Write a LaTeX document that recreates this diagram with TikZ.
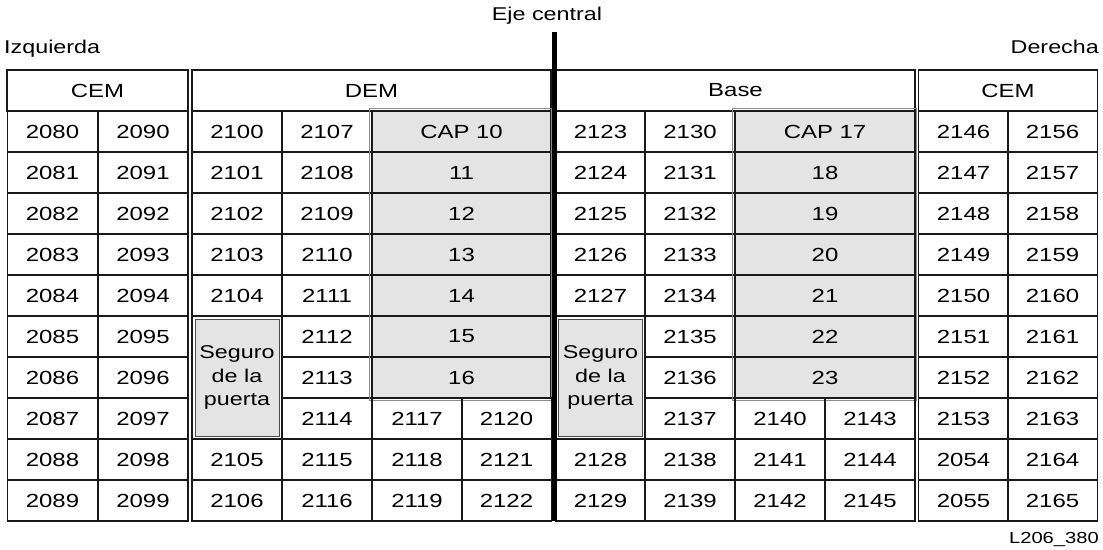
\documentclass[tikz,border=0pt]{standalone}
\usepackage{fontspec}
\setmainfont{Liberation Sans}[FakeStretch=1.26]
\definecolor{rule}{RGB}{25,25,25}
\definecolor{capgray}{RGB}{228,228,228}

\begin{document}
\begin{tikzpicture}[x=1pt, y=-1pt,
		cell/.style={draw=rule, line width=1.4pt, minimum width=90pt,
			minimum height=41pt, inner sep=0pt,
			font=\fontsize{19}{22}\selectfont},
		head/.style={cell},
		capcell/.style={cell, fill=capgray},
		door/.style={draw=black!70, line width=1pt, fill=capgray,
			minimum width=84pt, minimum height=117pt, inner sep=0pt,
			align=center, font=\fontsize{18.5}{23.5}\selectfont},
		capframe/.style={draw=black!45, line width=1pt},
		lbl/.style={inner sep=0pt, font=\fontsize{18.5}{22}\selectfont},
		axis/.style={line width=5pt}]
	\useasboundingbox (0,0) rectangle (1103,549);

	% labels on top
	\node[lbl, anchor=base] (eje) at (547,20) {Eje central};
	\node[lbl, anchor=base west] (izq) at (4,53) {Izquierda};
	\node[lbl, anchor=base east] (der) at (1099,53) {Derecha};
	\node[lbl, anchor=base east, font=\fontsize{16}{19}\selectfont] (ref) at (1099,543) {L206\_380};

	% left CEM
	\node[head, minimum width=181pt] (cemL) at (97.5,90.5) {CEM};
	\node[cell] (n2080) at (52.5,131.5) {2080};
	\node[cell] (n2081) at (52.5,172.5) {2081};
	\node[cell] (n2082) at (52.5,213.5) {2082};
	\node[cell] (n2083) at (52.5,254.5) {2083};
	\node[cell] (n2084) at (52.5,295.5) {2084};
	\node[cell] (n2085) at (52.5,336.5) {2085};
	\node[cell] (n2086) at (52.5,377.5) {2086};
	\node[cell] (n2087) at (52.5,418.5) {2087};
	\node[cell] (n2088) at (52.5,459.5) {2088};
	\node[cell] (n2089) at (52.5,500.5) {2089};
	\node[cell] (n2090) at (143,131.5) {2090};
	\node[cell] (n2091) at (143,172.5) {2091};
	\node[cell] (n2092) at (143,213.5) {2092};
	\node[cell] (n2093) at (143,254.5) {2093};
	\node[cell] (n2094) at (143,295.5) {2094};
	\node[cell] (n2095) at (143,336.5) {2095};
	\node[cell] (n2096) at (143,377.5) {2096};
	\node[cell] (n2097) at (143,418.5) {2097};
	\node[cell] (n2098) at (143,459.5) {2098};
	\node[cell] (n2099) at (143,500.5) {2099};

	% DEM
	\node[head, minimum width=359pt] (dem) at (371.5,90.5) {DEM};
	\node[cell] (n2100) at (237,131.5) {2100};
	\node[cell] (n2101) at (237,172.5) {2101};
	\node[cell] (n2102) at (237,213.5) {2102};
	\node[cell] (n2103) at (237,254.5) {2103};
	\node[cell] (n2104) at (237,295.5) {2104};
	\node[cell, minimum height=123pt] (doorL) at (237,377.5) {};
	\node[door] (seguroL) at (doorL) {Seguro\\de la\\puerta};
	\node[cell] (n2105) at (237,459.5) {2105};
	\node[cell] (n2106) at (237,500.5) {2106};
	\node[cell] (n2107) at (327,131.5) {2107};
	\node[cell] (n2108) at (327,172.5) {2108};
	\node[cell] (n2109) at (327,213.5) {2109};
	\node[cell] (n2110) at (327,254.5) {2110};
	\node[cell] (n2111) at (327,295.5) {2111};
	\node[cell] (n2112) at (327,336.5) {2112};
	\node[cell] (n2113) at (327,377.5) {2113};
	\node[cell] (n2114) at (327,418.5) {2114};
	\node[cell] (n2115) at (327,459.5) {2115};
	\node[cell] (n2116) at (327,500.5) {2116};
	\node[capcell, minimum width=179pt] (cap10) at (461.5,131.5) {CAP 10};
	\node[capcell, minimum width=179pt] (cap11) at (461.5,172.5) {11};
	\node[capcell, minimum width=179pt] (cap12) at (461.5,213.5) {12};
	\node[capcell, minimum width=179pt] (cap13) at (461.5,254.5) {13};
	\node[capcell, minimum width=179pt] (cap14) at (461.5,295.5) {14};
	\node[capcell, minimum width=179pt] (cap15) at (461.5,336.5) {15};
	\node[capcell, minimum width=179pt] (cap16) at (461.5,377.5) {16};
	\draw[capframe] ([xshift=-2pt,yshift=2pt]cap10.north west) rectangle ([yshift=-2pt]cap16.south east);
	\node[cell] (n2117) at (417,418.5) {2117};
	\node[cell] (n2118) at (417,459.5) {2118};
	\node[cell] (n2119) at (417,500.5) {2119};
	\node[cell] (n2120) at (506.5,418.5) {2120};
	\node[cell] (n2121) at (506.5,459.5) {2121};
	\node[cell] (n2122) at (506.5,500.5) {2122};

	% Base
	\node[head, minimum width=359pt] (base) at (735.5,90.5) {Base};
	\node[cell] (n2123) at (600.5,131.5) {2123};
	\node[cell] (n2124) at (600.5,172.5) {2124};
	\node[cell] (n2125) at (600.5,213.5) {2125};
	\node[cell] (n2126) at (600.5,254.5) {2126};
	\node[cell] (n2127) at (600.5,295.5) {2127};
	\node[cell, minimum height=123pt] (doorR) at (600.5,377.5) {};
	\node[door] (seguroR) at (doorR) {Seguro\\de la\\puerta};
	\node[cell] (n2128) at (600.5,459.5) {2128};
	\node[cell] (n2129) at (600.5,500.5) {2129};
	\node[cell] (n2130) at (690,131.5) {2130};
	\node[cell] (n2131) at (690,172.5) {2131};
	\node[cell] (n2132) at (690,213.5) {2132};
	\node[cell] (n2133) at (690,254.5) {2133};
	\node[cell] (n2134) at (690,295.5) {2134};
	\node[cell] (n2135) at (690,336.5) {2135};
	\node[cell] (n2136) at (690,377.5) {2136};
	\node[cell] (n2137) at (690,418.5) {2137};
	\node[cell] (n2138) at (690,459.5) {2138};
	\node[cell] (n2139) at (690,500.5) {2139};
	\node[capcell, minimum width=180pt] (cap17) at (825,131.5) {CAP 17};
	\node[capcell, minimum width=180pt] (cap18) at (825,172.5) {18};
	\node[capcell, minimum width=180pt] (cap19) at (825,213.5) {19};
	\node[capcell, minimum width=180pt] (cap20) at (825,254.5) {20};
	\node[capcell, minimum width=180pt] (cap21) at (825,295.5) {21};
	\node[capcell, minimum width=180pt] (cap22) at (825,336.5) {22};
	\node[capcell, minimum width=180pt] (cap23) at (825,377.5) {23};
	\draw[capframe] ([xshift=-2pt,yshift=2pt]cap17.north west) rectangle ([xshift=1pt,yshift=-2pt]cap23.south east);
	\node[cell] (n2140) at (780,418.5) {2140};
	\node[cell] (n2141) at (780,459.5) {2141};
	\node[cell] (n2142) at (780,500.5) {2142};
	\node[cell] (n2143) at (870,418.5) {2143};
	\node[cell] (n2144) at (870,459.5) {2144};
	\node[cell] (n2145) at (870,500.5) {2145};

	% right CEM
	\node[head, minimum width=179pt] (cemR) at (1008,90.5) {CEM};
	\node[cell] (n2146) at (963.5,131.5) {2146};
	\node[cell] (n2147) at (963.5,172.5) {2147};
	\node[cell] (n2148) at (963.5,213.5) {2148};
	\node[cell] (n2149) at (963.5,254.5) {2149};
	\node[cell] (n2150) at (963.5,295.5) {2150};
	\node[cell] (n2151) at (963.5,336.5) {2151};
	\node[cell] (n2152) at (963.5,377.5) {2152};
	\node[cell] (n2153) at (963.5,418.5) {2153};
	\node[cell] (n2054) at (963.5,459.5) {2054};
	\node[cell] (n2055) at (963.5,500.5) {2055};
	\node[cell] (n2156) at (1052.5,131.5) {2156};
	\node[cell] (n2157) at (1052.5,172.5) {2157};
	\node[cell] (n2158) at (1052.5,213.5) {2158};
	\node[cell] (n2159) at (1052.5,254.5) {2159};
	\node[cell] (n2160) at (1052.5,295.5) {2160};
	\node[cell] (n2161) at (1052.5,336.5) {2161};
	\node[cell] (n2162) at (1052.5,377.5) {2162};
	\node[cell] (n2163) at (1052.5,418.5) {2163};
	\node[cell] (n2164) at (1052.5,459.5) {2164};
	\node[cell] (n2165) at (1052.5,500.5) {2165};

	% central axis
	\coordinate (ejetop) at (554,32);
	\coordinate (ejebot) at (554,521);
	\draw[axis] (ejetop) -- (ejebot);

\end{tikzpicture}
\end{document}
